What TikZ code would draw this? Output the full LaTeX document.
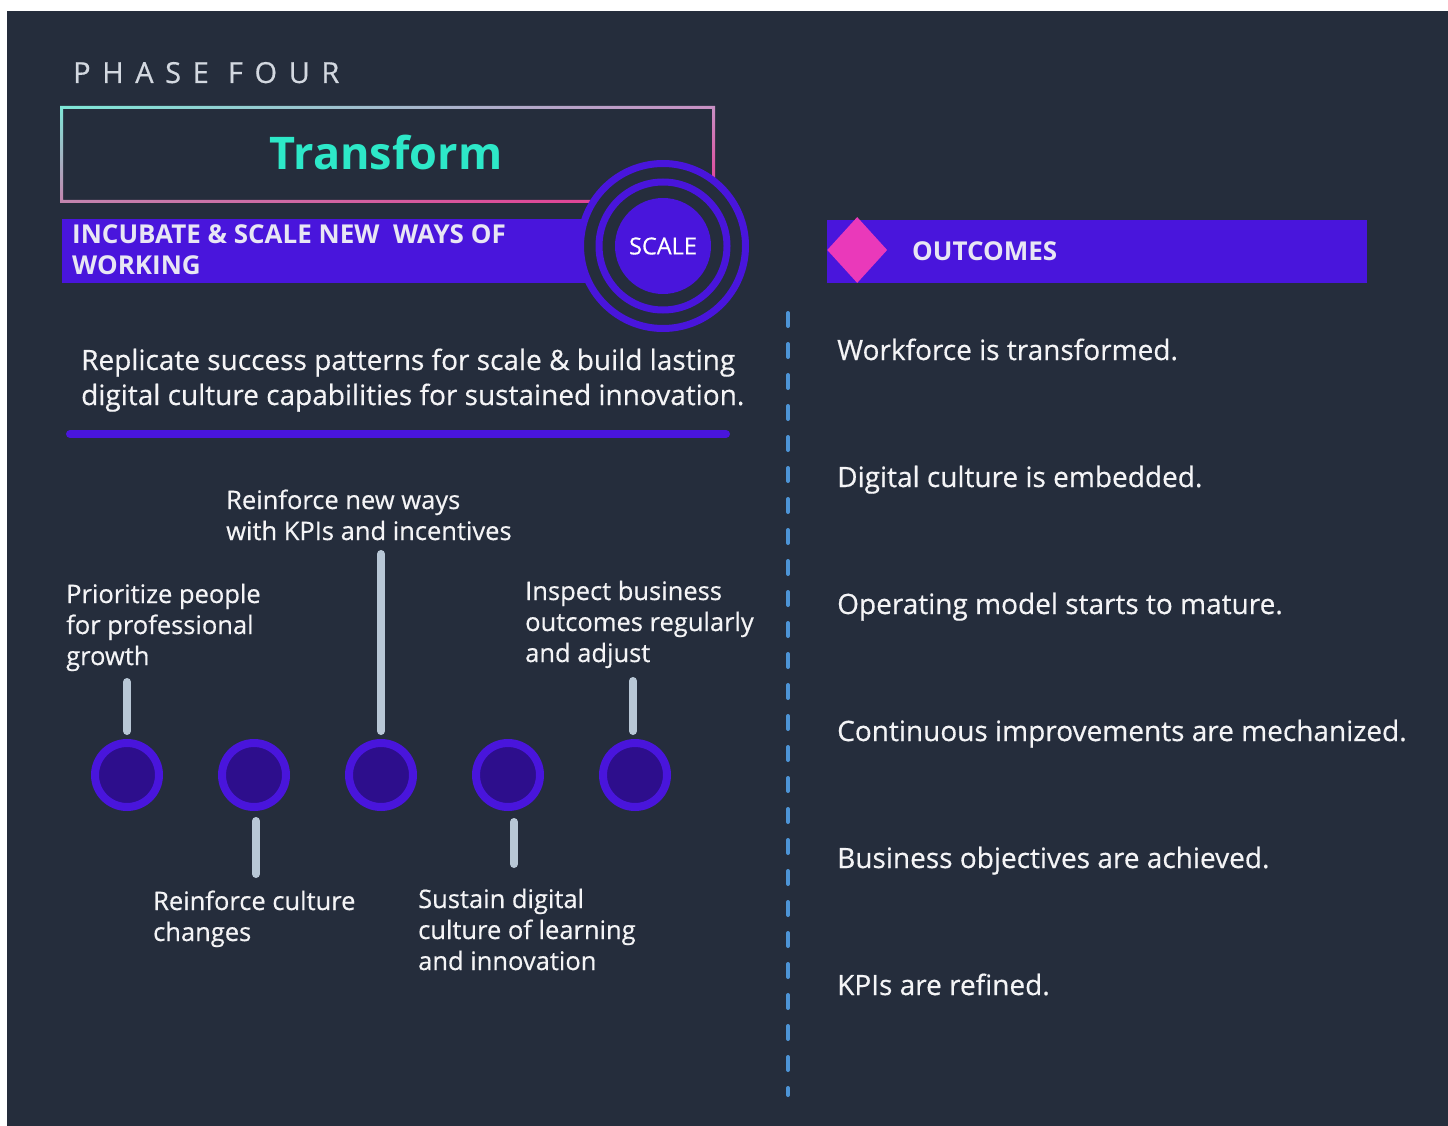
\documentclass[tikz,border=0pt]{standalone}
\usepackage{fontspec}
\setmainfont{Open Sans}[UprightFeatures={FakeBold=0.5}]
\usetikzlibrary{positioning}
\usetikzlibrary{shapes.geometric}
\usetikzlibrary{shadings}

\definecolor{bgdark}{HTML}{252D3C}
\definecolor{bandpurple}{HTML}{4915DC}
\definecolor{dotfill}{HTML}{2D0E8C}
\definecolor{stemgray}{HTML}{B8C7D6}
\definecolor{dashblue}{HTML}{4D94D6}
\definecolor{gempink}{HTML}{EA39BA}
\definecolor{titleteal}{HTML}{2DE8C8}
\definecolor{textwhite}{HTML}{F4F4F6}
\definecolor{bandtext}{HTML}{E8E6F4}
\definecolor{phasegray}{HTML}{D3D8E0}
\definecolor{frameteal}{HTML}{7EE8D8}
\definecolor{framelav}{HTML}{C890C4}
\definecolor{framemauve}{HTML}{C483AE}
\definecolor{framepink}{HTML}{E8338F}

\tikzset{
  band/.style={fill=bandpurple, inner sep=0},
  dot/.style={circle, draw=bandpurple, fill=dotfill, line width=8pt, minimum size=64pt, inner sep=0},
  stem/.style={draw=stemgray, line width=8pt, line cap=round},
  lbl/.style={text=textwhite, font=\fontsize{25.5}{31}\selectfont, align=left, anchor=base west, inner sep=0},
  outcome/.style={text=textwhite, font=\fontsize{28}{36}\selectfont, anchor=base west, inner sep=0},
}

\begin{document}
\begin{tikzpicture}[x=1pt, y=-1pt]

    % Background
    \fill[white] (0,0) rectangle (1448,1126);
    \fill[bgdark] (7,11) rectangle (1448,1126);
    \useasboundingbox (0,0) rectangle (1448,1126);

    % Define nodes
    \node[anchor=base west, inner sep=0, text=phasegray,
          font=\fontsize{29}{29}\selectfont\addfontfeature{LetterSpace=40}] (phase) at (73,83) {PHASE FOUR};
    \shade[even odd rule, upper left=frameteal, upper right=framelav,
           lower left=framemauve, lower right=framepink]
        (60,106) rectangle (715,203) (63,109) rectangle (712,200);
    \node[anchor=base, inner sep=0, text=titleteal,
          font=\bfseries\fontsize{45}{45}\selectfont] (title) at (386,170) {Transform};

    \node[band, anchor=north west, minimum width=560pt, minimum height=64pt] (incubate) at (62,219) {};
    % last line sits on the given baseline
    \node[anchor=base west, inner sep=0, align=left, text=bandtext,
          font=\bfseries\fontsize{26}{31}\selectfont] (incubatetxt) at (72,274)
          {INCUBATE \& SCALE NEW\ \ WAYS OF\\WORKING};

    \node[circle, draw=bandpurple, fill=bgdark, line width=7pt, minimum size=165pt, inner sep=0] (ringout) at (663,246) {};
    \node[circle, draw=bandpurple, line width=7pt, minimum size=128pt, inner sep=0] (ringin) at (ringout) {};
    \node[circle, fill=bandpurple, minimum size=96pt, inner sep=0, text=white,
          font=\fontsize{23.5}{24}\selectfont] (scale) at (ringout) {SCALE};

    \node[anchor=base west, inner sep=0, align=left, text=textwhite,
          font=\fontsize{28}{35}\selectfont] (goal) at (81,405)
          {Replicate success patterns for scale \& build lasting\\digital culture capabilities for sustained innovation.};
    \coordinate (rulel) at (70,434);
    \coordinate (ruler) at (726,434);
    \draw[bandpurple, line width=8pt, line cap=round] (rulel) -- (ruler);

    % Timeline
    \node[dot]                  (c1) at (127,775) {};
    \node[dot, right=55pt of c1] (c2) {};
    \node[dot, right=55pt of c2] (c3) {};
    \node[dot, right=55pt of c3] (c4) {};
    \node[dot, right=55pt of c4] (c5) {};

    \node[lbl] (p1) at (66,665)  {Prioritize people\\for professional\\growth};
    \node[lbl] (p2) at (153,941) {Reinforce culture\\changes};
    \node[lbl] (p3) at (226,540) {Reinforce new ways\\with KPIs and incentives};
    \node[lbl] (p4) at (418,970) {Sustain digital\\culture of learning\\and innovation};
    \node[lbl] (p5) at (525,662) {Inspect business\\outcomes regularly\\and adjust};

    \coordinate (t1) at (127,682);
    \coordinate (t2) at (256,874);
    \coordinate (t3) at (381,554);
    \coordinate (t4) at (514,864);
    \coordinate (t5) at (633,681);

    % Connect the nodes
    \draw[stem, shorten <=8pt]  (c1.north) -- (t1);
    \draw[stem, shorten <=10pt] ([xshift=2pt]c2.south) -- (t2);
    \draw[stem, shorten <=8pt]  (c3.north) -- (t3);
    \draw[stem, shorten <=11pt] ([xshift=6pt]c4.south) -- (t4);
    \draw[stem, shorten <=8pt]  ([xshift=-2pt]c5.north) -- (t5);

    % Divider
    \coordinate (dtop) at (788,313);
    \coordinate (dbot) at (788,1095);
    \draw[dashblue, line width=4pt, line cap=round, dash pattern=on 13pt off 18pt] (dtop) -- (dbot);

    % Outcomes
    \node[band, anchor=north west, minimum width=540pt, minimum height=63pt] (outhead) at (827,220) {};
    \node[diamond, fill=gempink, minimum width=60pt, minimum height=66pt, inner sep=0, anchor=west] (gem) at (827,250) {};
    \node[anchor=base west, inner sep=0, text=bandtext,
          font=\bfseries\fontsize{26}{26}\selectfont] (outtitle) at (912,260) {OUTCOMES};

    \node[outcome] (o1) at (837,360) {Workforce is transformed.};
    \node[outcome, below=127pt of o1.base west, anchor=base west] (o2) {Digital culture is embedded.};
    \node[outcome, below=127pt of o2.base west, anchor=base west] (o3) {Operating model starts to mature.};
    \node[outcome, below=127pt of o3.base west, anchor=base west] (o4) {Continuous improvements are mechanized.};
    \node[outcome, below=127pt of o4.base west, anchor=base west] (o5) {Business objectives are achieved.};
    \node[outcome, below=127pt of o5.base west, anchor=base west] (o6) {KPIs are refined.};

\end{tikzpicture}
\end{document}
